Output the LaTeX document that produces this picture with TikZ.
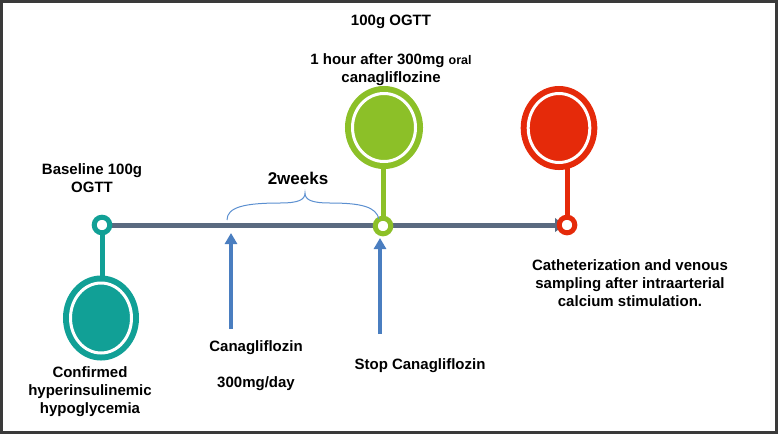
\documentclass[tikz,border=0pt]{standalone}
\usepackage{fontspec}
\setmainfont{Liberation Sans}
\usetikzlibrary{shapes.geometric,arrows.meta,backgrounds}
\definecolor{tealc}{HTML}{11A096}
\definecolor{greenc}{HTML}{8CC028}
\definecolor{redc}{HTML}{E52A0A}
\definecolor{linec}{HTML}{5A6A80}
\definecolor{bluec}{HTML}{4A7EC0}
\definecolor{bracec}{HTML}{5B8FD0}
\definecolor{framec}{HTML}{3A3A3A}
\begin{document}
\begin{tikzpicture}[x=1pt,y=-1pt,
  bigdot/.style={ellipse, draw=#1, fill=#1, line width=6pt, double=white, double distance=3pt, inner sep=0pt},
  ring/.style={circle, draw=#1, fill=white, line width=5pt, minimum size=15.6pt, inner sep=0pt},
  stem/.style={draw=#1, line width=5pt},
  lbl/.style={font=\fontsize{15}{18}\selectfont\bfseries, align=center, text=black, inner sep=0pt},
  timeline/.style={draw=linec, line width=5pt},
  uparrow/.style={draw=bluec, line width=3.5pt, -{Triangle[length=11pt,width=12pt]}},
]
\useasboundingbox (0,0) rectangle (778,434);
\draw[framec, line width=2.5pt] (1.25,1.25) rectangle (776.5,432.5);

% rings on the timeline
\node[ring=tealc] (t1) at (102,225) {};
\node[ring=greenc] (g1) at (383,226) {};
\node[ring=redc] (r1) at (567,225) {};

% big dots
\node[bigdot=tealc, minimum width=61pt, minimum height=70pt] (T1) at (101,318) {};
\node[bigdot=greenc, minimum width=63pt, minimum height=68pt] (G1) at (384,127.5) {};
\node[bigdot=redc, minimum width=61.6pt, minimum height=69pt] (R1) at (559,128) {};

\begin{scope}[on background layer]
  \draw[timeline, -{Latex[length=12pt,width=15pt]}] (t1.center) -- (r1.center);
  \draw[stem=tealc] (t1.center) -- (t1.center |- T1.center);
  \draw[stem=greenc] (g1.center) -- (g1.center |- G1.center);
  \draw[stem=redc] (r1.center) -- (r1.center |- R1.center);
\end{scope}

% blue arrows
\coordinate (a1s) at (231,329);
\coordinate (a1e) at (231,233);
\coordinate (a2s) at (380,334);
\coordinate (a2e) at (380,238);
\draw[uparrow] (a1s) -- (a1e);
\draw[uparrow] (a2s) -- (a2e);

% brace
\coordinate (bl) at (227,220);
\coordinate (bt) at (305,193);
\coordinate (br) at (379,219);
\draw[bracec, line width=1pt] (bl) .. controls (227,207) and (245,203) .. (280,203)
  .. controls (298,203) and (305,200) .. (bt)
  .. controls (305,200) and (312,203) .. (330,203)
  .. controls (362,203) and (376,207) .. (br);

% labels
\node[lbl] (ogtt) at (391,22) {100g OGTT};
\node[lbl] (hour) at (391,70) {1 hour after 300mg {\fontsize{12.5}{18}\selectfont oral}\\canagliflozine};
\node[lbl] (base) at (92,178) {Baseline 100g\\OGTT};
\node[lbl, font=\fontsize{17}{20}\selectfont\bfseries] (wk) at (298,178) {2weeks};
\node[lbl] (conf) at (90,392) {Confirmed\\hyperinsulinemic\\hypoglycemia};
\node[lbl] (cana) at (256,348) {Canagliflozin};
\node[lbl] (dose) at (256,384) {300mg/day};
\node[lbl] (stop) at (420,366) {Stop Canagliflozin};
\node[lbl] (cath) at (630,283) {Catheterization and venous\\sampling after intraarterial\\calcium stimulation.};
\end{tikzpicture}
\end{document}
